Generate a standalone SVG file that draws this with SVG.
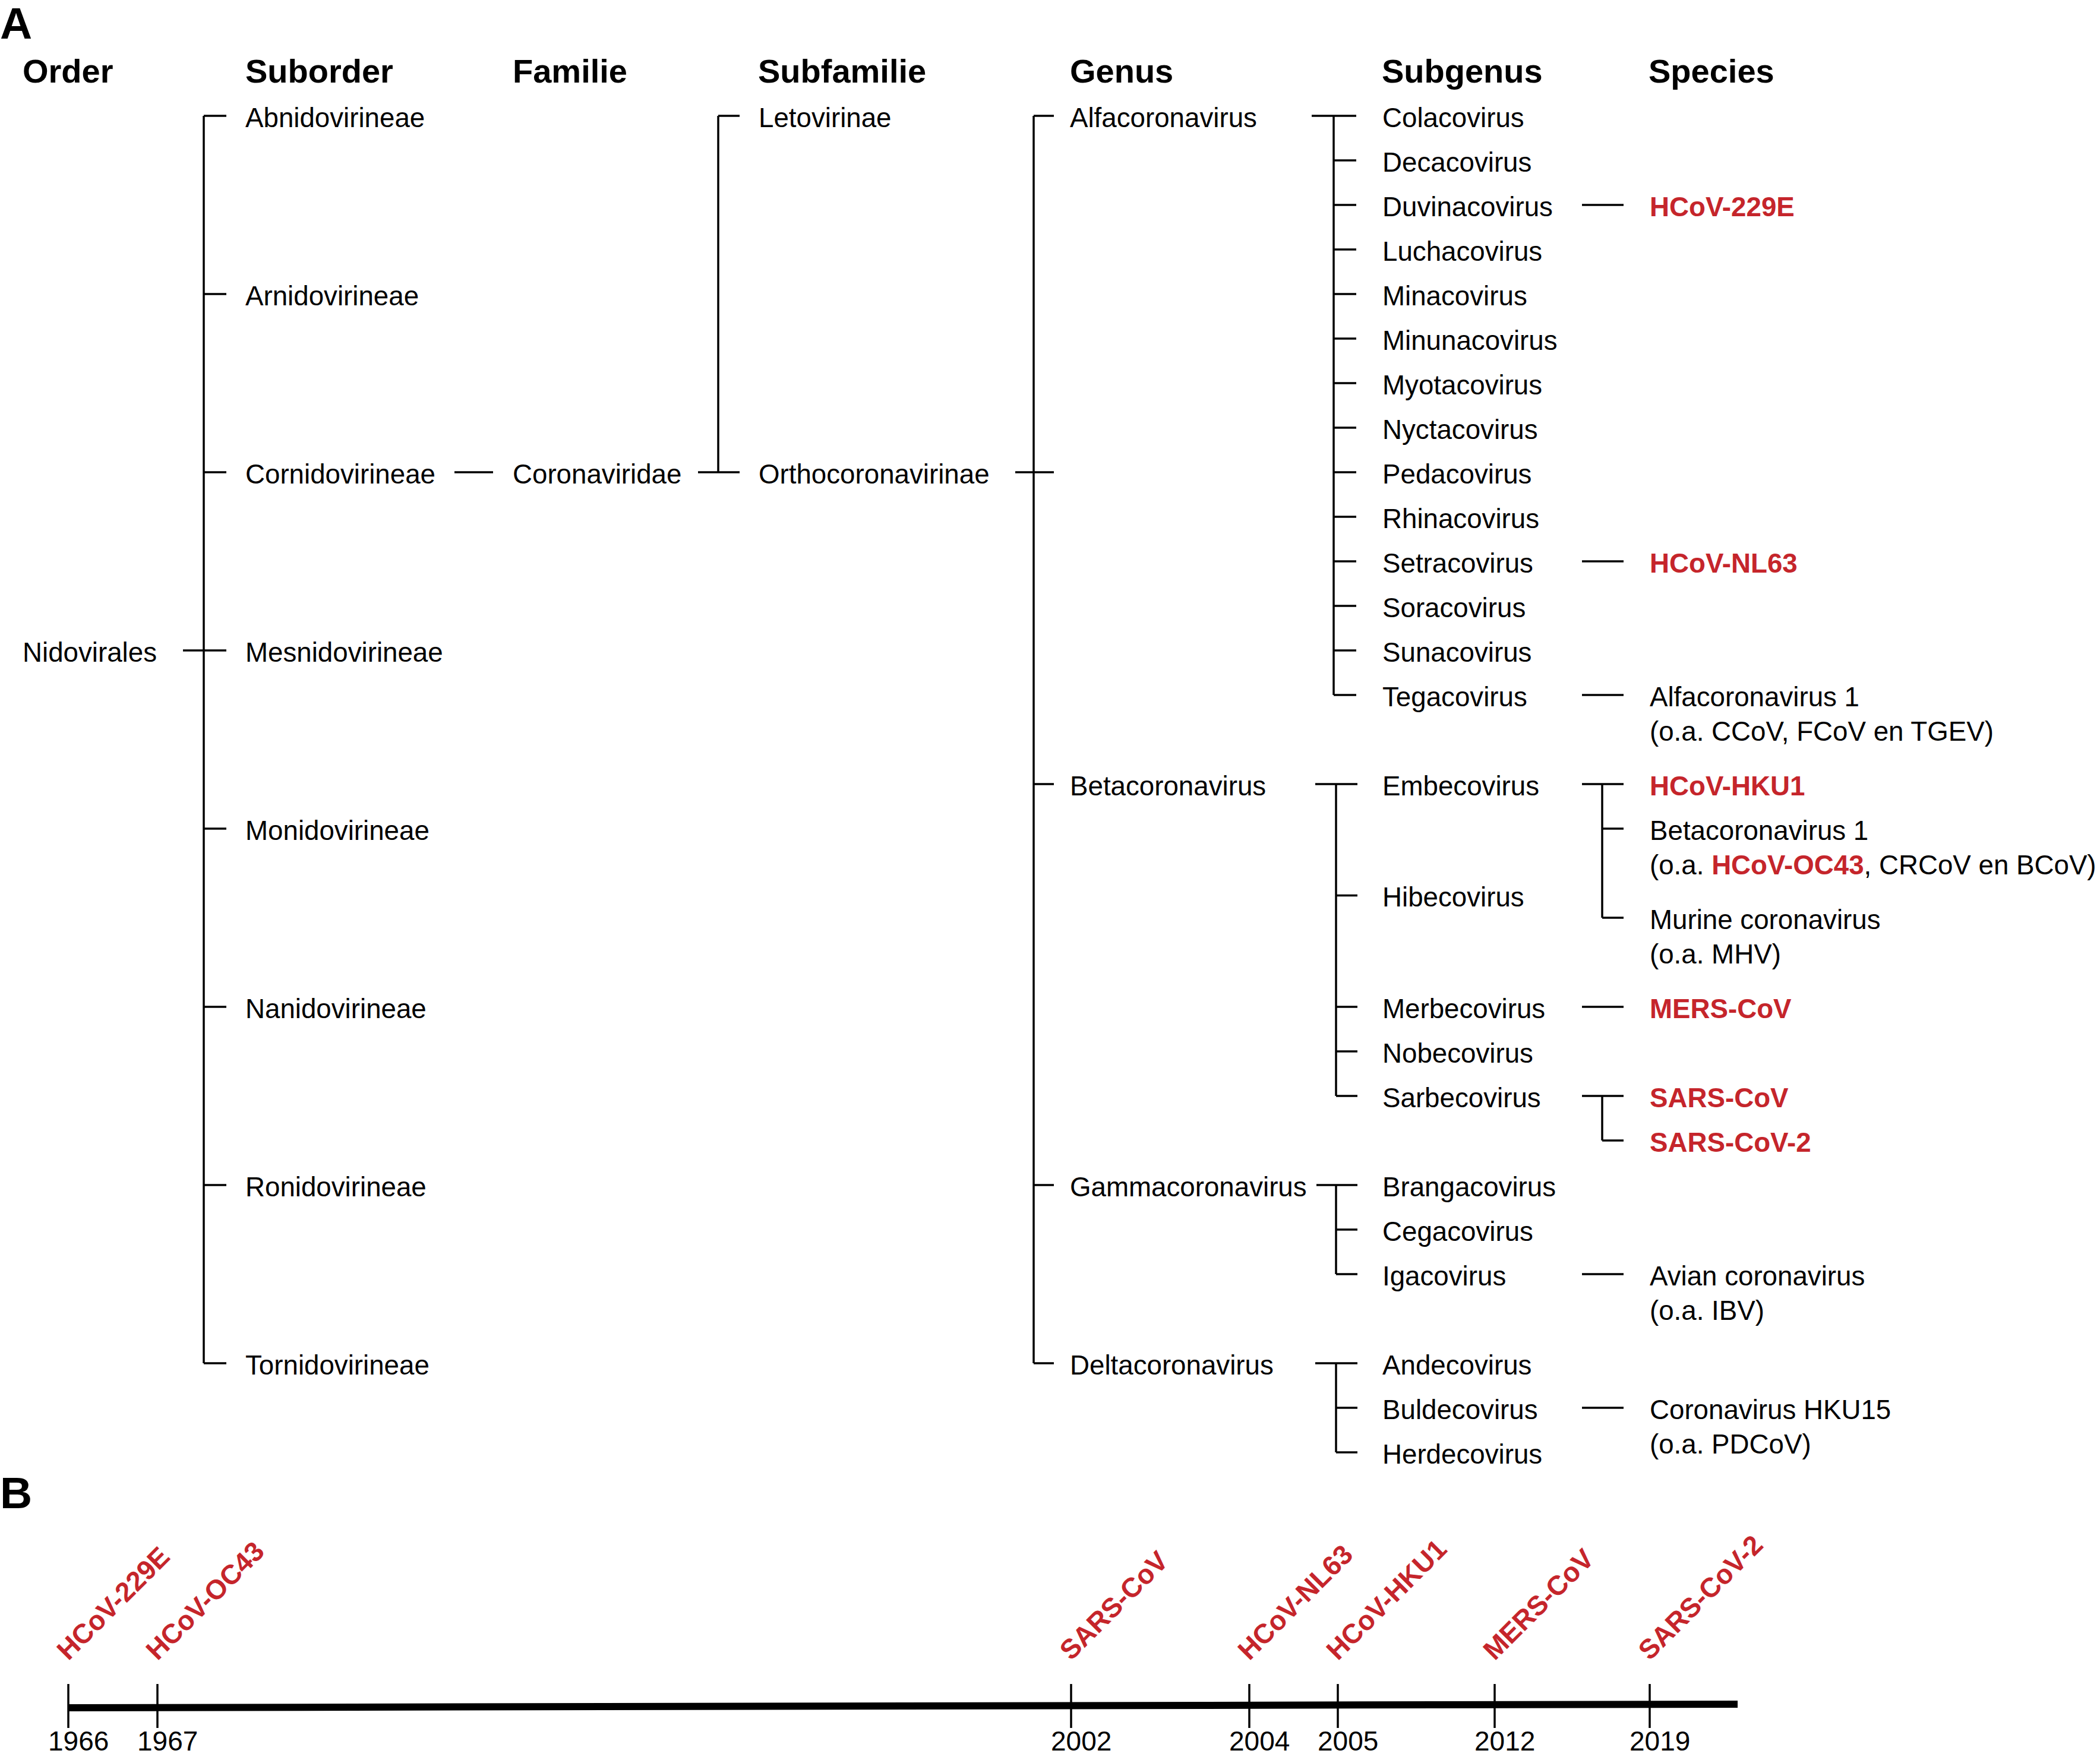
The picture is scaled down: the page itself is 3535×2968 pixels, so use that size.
<svg xmlns="http://www.w3.org/2000/svg" width="3535" height="2968" viewBox="0 0 3535 2968">
<style>
text{font-family:"Liberation Sans",Arial,Helvetica,sans-serif;fill:#000}
.panel{font-size:75px;font-weight:bold}
.hdr{font-size:56px;font-weight:bold}
.t{font-size:45.7px}
.r{font-size:45.7px;font-weight:bold;fill:#C5252B}
.yr{font-size:46px}
.tl{font-size:46px;font-weight:bold;fill:#C5252B}
.c line,.c path{stroke:#000;stroke-width:3.5;fill:none}
</style>
<rect width="3535" height="2968" fill="#fff"/>
<text class="panel" x="0" y="65">A</text>
<text class="panel" x="0" y="2539">B</text>
<g id="headers">
<text class="hdr" x="38" y="139">Order</text>
<text class="hdr" x="413" y="139">Suborder</text>
<text class="hdr" x="863" y="139">Familie</text>
<text class="hdr" x="1276" y="139">Subfamilie</text>
<text class="hdr" x="1801" y="139">Genus</text>
<text class="hdr" x="2326" y="139">Subgenus</text>
<text class="hdr" x="2775" y="139">Species</text>
</g>
<g id="connectors" class="c">
<line x1="308" y1="1095" x2="381" y2="1095"/>
<line x1="343" y1="195" x2="343" y2="2295"/>
<line x1="343" y1="195" x2="381" y2="195"/>
<line x1="343" y1="495" x2="381" y2="495"/>
<line x1="343" y1="795" x2="381" y2="795"/>
<line x1="343" y1="1395" x2="381" y2="1395"/>
<line x1="343" y1="1695" x2="381" y2="1695"/>
<line x1="343" y1="1995" x2="381" y2="1995"/>
<line x1="343" y1="2295" x2="381" y2="2295"/>
<line x1="765" y1="795" x2="830" y2="795"/>
<line x1="1175" y1="795" x2="1245" y2="795"/>
<line x1="1209" y1="195" x2="1209" y2="795"/>
<line x1="1209" y1="195" x2="1245" y2="195"/>
<line x1="1709" y1="795" x2="1774" y2="795"/>
<line x1="1740" y1="195" x2="1740" y2="2295"/>
<line x1="1740" y1="195" x2="1774" y2="195"/>
<line x1="1740" y1="1320" x2="1774" y2="1320"/>
<line x1="1740" y1="1995" x2="1774" y2="1995"/>
<line x1="1740" y1="2295" x2="1774" y2="2295"/>
<line x1="2208" y1="195" x2="2283" y2="195"/>
<line x1="2245" y1="195" x2="2245" y2="1170"/>
<line x1="2245" y1="270" x2="2283" y2="270"/>
<line x1="2245" y1="345" x2="2283" y2="345"/>
<line x1="2245" y1="420" x2="2283" y2="420"/>
<line x1="2245" y1="495" x2="2283" y2="495"/>
<line x1="2245" y1="570" x2="2283" y2="570"/>
<line x1="2245" y1="645" x2="2283" y2="645"/>
<line x1="2245" y1="720" x2="2283" y2="720"/>
<line x1="2245" y1="795" x2="2283" y2="795"/>
<line x1="2245" y1="870" x2="2283" y2="870"/>
<line x1="2245" y1="945" x2="2283" y2="945"/>
<line x1="2245" y1="1020" x2="2283" y2="1020"/>
<line x1="2245" y1="1095" x2="2283" y2="1095"/>
<line x1="2245" y1="1170" x2="2283" y2="1170"/>
<line x1="2214" y1="1320" x2="2285" y2="1320"/>
<line x1="2249" y1="1320" x2="2249" y2="1845"/>
<line x1="2249" y1="1507.5" x2="2285" y2="1507.5"/>
<line x1="2249" y1="1695" x2="2285" y2="1695"/>
<line x1="2249" y1="1770" x2="2285" y2="1770"/>
<line x1="2249" y1="1845" x2="2285" y2="1845"/>
<line x1="2216" y1="1995" x2="2285" y2="1995"/>
<line x1="2249" y1="1995" x2="2249" y2="2145"/>
<line x1="2249" y1="2070" x2="2285" y2="2070"/>
<line x1="2249" y1="2145" x2="2285" y2="2145"/>
<line x1="2214" y1="2295" x2="2285" y2="2295"/>
<line x1="2249" y1="2295" x2="2249" y2="2445"/>
<line x1="2249" y1="2370" x2="2285" y2="2370"/>
<line x1="2249" y1="2445" x2="2285" y2="2445"/>
<line x1="2663" y1="345" x2="2733" y2="345"/>
<line x1="2663" y1="945" x2="2733" y2="945"/>
<line x1="2663" y1="1170" x2="2733" y2="1170"/>
<line x1="2663" y1="1320" x2="2733" y2="1320"/>
<line x1="2697" y1="1320" x2="2697" y2="1545"/>
<line x1="2697" y1="1395" x2="2733" y2="1395"/>
<line x1="2697" y1="1545" x2="2733" y2="1545"/>
<line x1="2663" y1="1695" x2="2733" y2="1695"/>
<line x1="2663" y1="1845" x2="2733" y2="1845"/>
<line x1="2697" y1="1845" x2="2697" y2="1920"/>
<line x1="2697" y1="1920" x2="2733" y2="1920"/>
<line x1="2663" y1="2145" x2="2733" y2="2145"/>
<line x1="2663" y1="2370" x2="2733" y2="2370"/>
</g>
<g id="order"><text class="t" x="38" y="1114">Nidovirales</text></g>
<g id="suborders">
<text class="t" x="413" y="214">Abnidovirineae</text>
<text class="t" x="413" y="514">Arnidovirineae</text>
<text class="t" x="413" y="814">Cornidovirineae</text>
<text class="t" x="413" y="1114">Mesnidovirineae</text>
<text class="t" x="413" y="1414">Monidovirineae</text>
<text class="t" x="413" y="1714">Nanidovirineae</text>
<text class="t" x="413" y="2014">Ronidovirineae</text>
<text class="t" x="413" y="2314">Tornidovirineae</text>
</g>
<g id="family"><text class="t" x="863" y="814">Coronaviridae</text></g>
<g id="subfamilies">
<text class="t" x="1277" y="214">Letovirinae</text>
<text class="t" x="1277" y="814">Orthocoronavirinae</text>
</g>
<g id="genera">
<text class="t" x="1801" y="214">Alfacoronavirus</text>
<text class="t" x="1801" y="1339">Betacoronavirus</text>
<text class="t" x="1801" y="2014">Gammacoronavirus</text>
<text class="t" x="1801" y="2314">Deltacoronavirus</text>
</g>
<g id="subgenera">
<text class="t" x="2327" y="214">Colacovirus</text>
<text class="t" x="2327" y="289">Decacovirus</text>
<text class="t" x="2327" y="364">Duvinacovirus</text>
<text class="t" x="2327" y="439">Luchacovirus</text>
<text class="t" x="2327" y="514">Minacovirus</text>
<text class="t" x="2327" y="589">Minunacovirus</text>
<text class="t" x="2327" y="664">Myotacovirus</text>
<text class="t" x="2327" y="739">Nyctacovirus</text>
<text class="t" x="2327" y="814">Pedacovirus</text>
<text class="t" x="2327" y="889">Rhinacovirus</text>
<text class="t" x="2327" y="964">Setracovirus</text>
<text class="t" x="2327" y="1039">Soracovirus</text>
<text class="t" x="2327" y="1114">Sunacovirus</text>
<text class="t" x="2327" y="1189">Tegacovirus</text>
<text class="t" x="2327" y="1339">Embecovirus</text>
<text class="t" x="2327" y="1526">Hibecovirus</text>
<text class="t" x="2327" y="1714">Merbecovirus</text>
<text class="t" x="2327" y="1789">Nobecovirus</text>
<text class="t" x="2327" y="1864">Sarbecovirus</text>
<text class="t" x="2327" y="2014">Brangacovirus</text>
<text class="t" x="2327" y="2089">Cegacovirus</text>
<text class="t" x="2327" y="2164">Igacovirus</text>
<text class="t" x="2327" y="2314">Andecovirus</text>
<text class="t" x="2327" y="2389">Buldecovirus</text>
<text class="t" x="2327" y="2464">Herdecovirus</text>
</g>
<g id="species">
<text class="r" x="2777" y="364">HCoV-229E</text>
<text class="r" x="2777" y="964">HCoV-NL63</text>
<text class="t" x="2777" y="1189">Alfacoronavirus 1</text>
<text class="t" x="2777" y="1247">(o.a. CCoV, FCoV en TGEV)</text>
<text class="r" x="2777" y="1339">HCoV-HKU1</text>
<text class="t" x="2777" y="1414">Betacoronavirus 1</text>
<text class="t" x="2777" y="1472">(o.a. <tspan style="font-weight:bold;fill:#C5252B">HCoV-OC43</tspan>, CRCoV en BCoV)</text>
<text class="t" x="2777" y="1564">Murine coronavirus</text>
<text class="t" x="2777" y="1622">(o.a. MHV)</text>
<text class="r" x="2777" y="1714">MERS-CoV</text>
<text class="r" x="2777" y="1864">SARS-CoV</text>
<text class="r" x="2777" y="1939">SARS-CoV-2</text>
<text class="t" x="2777" y="2164">Avian coronavirus</text>
<text class="t" x="2777" y="2222">(o.a. IBV)</text>
<text class="t" x="2777" y="2389">Coronavirus HKU15</text>
<text class="t" x="2777" y="2447">(o.a. PDCoV)</text>
</g>
<g id="timeline">
<g class="c">
<line x1="115" y1="2875" x2="2925" y2="2869" style="stroke-width:12"/>
<line x1="115" y1="2835" x2="115" y2="2909"/>
<line x1="265" y1="2835" x2="265" y2="2909"/>
<line x1="1803" y1="2835" x2="1803" y2="2909"/>
<line x1="2103" y1="2835" x2="2103" y2="2909"/>
<line x1="2252" y1="2835" x2="2252" y2="2909"/>
<line x1="2516" y1="2835" x2="2516" y2="2909"/>
<line x1="2777" y1="2835" x2="2777" y2="2909"/>
</g>
<text class="yr" x="81" y="2947">1966</text>
<text class="yr" x="231" y="2947">1967</text>
<text class="yr" x="1769" y="2947">2002</text>
<text class="yr" x="2069" y="2947">2004</text>
<text class="yr" x="2218" y="2947">2005</text>
<text class="yr" x="2482" y="2947">2012</text>
<text class="yr" x="2743" y="2947">2019</text>
<text class="tl" transform="translate(115 2797) rotate(-45)">HCoV-229E</text>
<text class="tl" transform="translate(265 2797) rotate(-45)">HCoV-OC43</text>
<text class="tl" transform="translate(1803 2797) rotate(-45)">SARS-CoV</text>
<text class="tl" transform="translate(2103 2797) rotate(-45)">HCoV-NL63</text>
<text class="tl" transform="translate(2252 2797) rotate(-45)">HCoV-HKU1</text>
<text class="tl" transform="translate(2516 2797) rotate(-45)">MERS-CoV</text>
<text class="tl" transform="translate(2777 2797) rotate(-45)">SARS-CoV-2</text>
</g>
</svg>
